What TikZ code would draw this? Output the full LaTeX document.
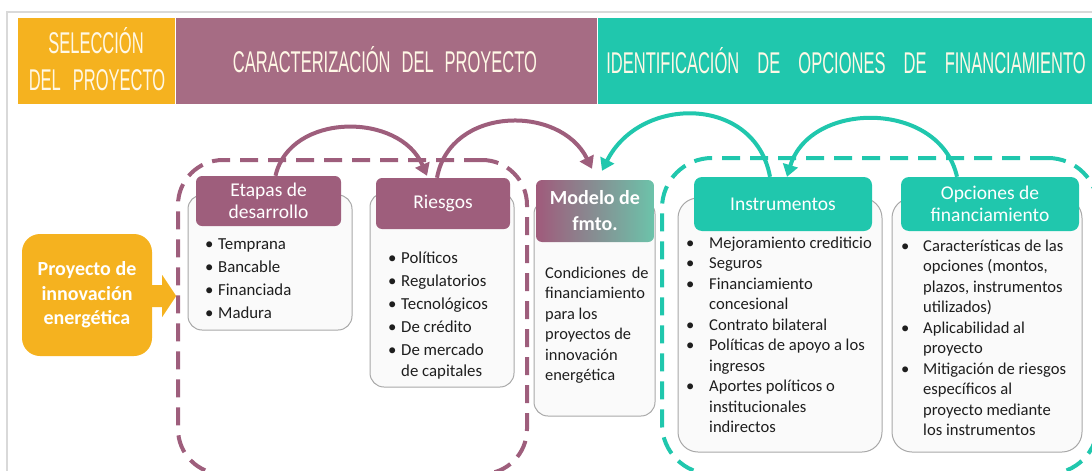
\documentclass[tikz,border=0pt]{standalone}
\usepackage{fontspec}
\setmainfont{Carlito}
\newfontfamily\hdfont{Liberation Sans}
\usetikzlibrary{arrows.meta}
\definecolor{yelo}{HTML}{F5B21F}
\definecolor{mauH}{HTML}{A66C84}
\definecolor{mauT}{HTML}{9E5E7C}
\definecolor{tealc}{HTML}{20C7AD}
\definecolor{gradL}{HTML}{A05A7B}
\definecolor{gradR}{HTML}{6CC3AA}
\definecolor{bord}{HTML}{A8A8A8}
\definecolor{framec}{HTML}{D9D9D9}
\definecolor{hdtext}{HTML}{FFF8E6}
\definecolor{bodytext}{HTML}{1E1E1E}
\newcommand{\hd}[1]{\scalebox{0.55}[1]{\hdfont\fontsize{30}{30}\selectfont #1}}
\newcommand{\hsp}[1]{\hspace{#1}}
\newcommand{\bu}[1]{\makebox[#1][l]{\textbullet}}
\begin{document}
\begin{tikzpicture}[x=1pt,y=-1pt,
  hdrbox/.style={draw=white, line width=0.6pt, inner sep=0pt, minimum height=87pt},
  hdtxt/.style={anchor=base, inner sep=0pt, text=hdtext},
  outbox/.style={draw=bord, line width=1pt, fill=white!98!black, rounded corners=14pt, inner sep=0pt},
  ttlbox/.style={rounded corners=6pt, inner sep=0pt, text=white, align=center,
     font=\fontsize{19.5}{22.5}\selectfont},
  ttlM/.style={ttlbox, fill=mauT},
  ttlT/.style={ttlbox, fill=tealc},
  dashM/.style={draw=mauT, line width=4pt, dash pattern=on 18pt off 10pt, rounded corners=45pt, inner sep=0pt},
  dashT/.style={draw=tealc, line width=4pt, dash pattern=on 18pt off 10pt, rounded corners=50pt, inner sep=0pt},
  listtxt/.style={anchor=base west, inner sep=0pt, text=bodytext},
  arcM/.style={draw=mauT, line width=4pt, -{Triangle[length=12pt,width=15pt]}},
  arcT/.style={draw=tealc, line width=4pt, -{Triangle[length=12pt,width=15pt]}}
]
\useasboundingbox (0,0) rectangle (1092,471);
\clip (0,0) rectangle (1092,471);
% frame
\draw[framec, line width=1.5pt] (7,480) -- (7,12) -- (1100,12);
% header bars
\node[hdrbox, fill=yelo, minimum width=158pt] (hY) at (96,60.5) {};
\node[hdrbox, fill=mauH, minimum width=422pt] (hM) at (386,60.5) {};
\node[hdrbox, fill=tealc, minimum width=503pt] (hT) at (848.5,60.5) {};
\node[hdtxt] (hY1) at (96,53) {\hd{SELECCIÓN}};
\node[hdtxt] (hY2) at (97,90) {\hd{DEL\hsp{22pt}PROYECTO}};
\node[hdtxt] (hM1) at (385,72) {\hd{CARACTERIZACIÓN\hsp{20pt}DEL\hsp{20pt}PROYECTO}};
\node[hdtxt] (hT1) at (846,73) {\hd{IDENTIFICACIÓN\hsp{33pt}DE\hsp{33pt}OPCIONES\hsp{33pt}DE\hsp{33pt}FINANCIAMIENTO}};
% dashed groups
\node[dashM, minimum width=349pt, minimum height=314pt] (grpM) at (352.5,317) {};
\node[dashT, minimum width=436pt, minimum height=316pt] (grpT) at (880,316) {};
% project box with arrow
\node[fill=yelo, rounded corners=18pt, minimum width=130pt, minimum height=122pt, inner sep=0pt,
      text=white, align=center, font=\bfseries\fontsize{20}{24.5}\selectfont] (proy) at (87,295)
      {Proyecto de\\innovación\\energética};
\fill[yelo, shift={(proy.east)}] (-3,-10) -- (10,-10) -- (10,-20) -- (24,1) -- (10,22) -- (10,12) -- (-3,12) -- cycle;
% Etapas
\node[outbox, minimum width=164pt, minimum height=135pt] (etB) at (270,262.5) {};
\node[ttlM, minimum width=145pt, minimum height=50pt] (etT) at (268.5,201) {Etapas de\\desarrollo};
\node[listtxt, font=\fontsize{16.8}{23}\selectfont] (etL) at (205,249)
  {\begin{tabular}[t]{@{}l@{}l@{}}
   \bu{13pt}&Temprana\\ \bu{13pt}&Bancable\\ \bu{13pt}&Financiada\\ \bu{13pt}&Madura
   \end{tabular}};
% Riesgos
\node[outbox, minimum width=144pt, minimum height=194pt] (riB) at (442,290) {};
\node[ttlM, minimum width=134pt, minimum height=51pt] (riT) at (443,203.5) {Riesgos};
\node[listtxt, font=\fontsize{16.8}{23}\selectfont] (riL) at (388,263)
  {\begin{tabular}[t]{@{}l@{}l@{}}
   \bu{13pt}&Políticos\\ \bu{13pt}&Regulatorios\\ \bu{13pt}&Tecnológicos\\ \bu{13pt}&De crédito\\
   \bu{13pt}&De mercado\\[-2pt] &de capitales
   \end{tabular}};
% Modelo
\node[outbox, minimum width=121pt, minimum height=216pt] (moB) at (594.5,308) {};
\node[ttlbox, left color=gradL, right color=gradR, minimum width=118pt, minimum height=62pt,
      font=\bfseries\fontsize{20}{26}\selectfont] (moT) at (595,211) {Modelo de\\fmto.};
\node[listtxt, font=\fontsize{16.4}{20.5}\selectfont] (moL) at (545,278)
  {\begin{tabular}[t]{@{}l@{}}
   Condiciones\hspace{0.35em}de\\financiamiento\\para los\\proyectos de\\innovación\\energética
   \end{tabular}};
% Instrumentos
\node[outbox, rounded corners=20pt, minimum width=204pt, minimum height=254pt] (inB) at (780,325) {};
\node[ttlT, rounded corners=8pt, minimum width=178pt, minimum height=54pt] (inT) at (783,204) {Instrumentos};
\node[listtxt, font=\fontsize{16.6}{20.5}\selectfont] (inL) at (686,248)
  {\begin{tabular}[t]{@{}l@{}l@{}}
   \bu{23pt}&Mejoramiento crediticio\\ \bu{23pt}&Seguros\\ \bu{23pt}&Financiamiento\\ &concesional\\
   \bu{23pt}&Contrato bilateral\\ \bu{23pt}&Políticas de apoyo a los\\ &ingresos\\
   \bu{23pt}&Aportes políticos o\\ &institucionales\\ &indirectos
   \end{tabular}};
% Opciones
\node[outbox, rounded corners=20pt, minimum width=190pt, minimum height=254pt] (opB) at (987,325) {};
\node[ttlT, rounded corners=8pt, minimum width=178pt, minimum height=54pt] (opT) at (990,204) {Opciones de\\financiamiento};
\node[listtxt, font=\fontsize{16.6}{20.5}\selectfont] (opL) at (901,251)
  {\begin{tabular}[t]{@{}l@{}l@{}}
   \bu{22pt}&Características de las\\ &opciones (montos,\\ &plazos, instrumentos\\ &utilizados)\\
   \bu{22pt}&Aplicabilidad al\\ &proyecto\\
   \bu{22pt}&Mitigación de riesgos\\ &específicos al\\ &proyecto mediante\\ &los instrumentos
   \end{tabular}};
% arcs
\draw[arcM] ([xshift=7pt]etT.north) .. controls (290,112) and (400,112) .. ([xshift=-16pt,yshift=2pt]riT.north);
\draw[arcM] ([xshift=-6pt]riT.north) .. controls (450,106) and (560,104) .. ([xshift=-3pt,yshift=11pt]moT.north);
\draw[arcT] ([xshift=-13pt]inT.north) .. controls (755,95) and (640,95) .. ([xshift=7pt,yshift=9pt]moT.north);
\draw[arcT] ([xshift=-33pt]opT.north) .. controls (940,100) and (810,100) .. ([xshift=4pt]inT.north);
\end{tikzpicture}
\end{document}
